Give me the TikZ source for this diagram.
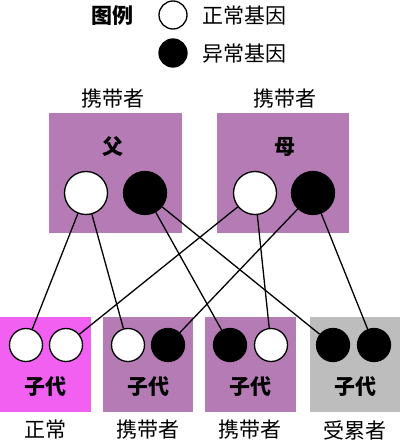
\documentclass[tikz,border=0pt]{standalone}
\usepackage{fontspec}
\setmainfont{Noto Sans CJK SC}
\usepackage{tikz}

\definecolor{parentbg}{RGB}{181,123,181}
\definecolor{normalbg}{RGB}{242,96,242}
\definecolor{sickbg}{RGB}{189,189,189}

\tikzset{
  gene/.style={circle, draw=black, line width=1.3pt, inner sep=0pt},
  big/.style={gene, minimum size=43pt},
  small/.style={gene, minimum size=33pt},
  legend/.style={gene, minimum size=28pt},
  label/.style={font=\fontsize{21}{24}\selectfont, inner sep=0pt},
  title/.style={font=\fontsize{21}{24}\selectfont\bfseries, inner sep=0pt},
  link/.style={line width=1.3pt}
}

\begin{document}
\begin{tikzpicture}[x=1pt,y=-1pt]
			\useasboundingbox (0,0) rectangle (400,441);

			% legend
			\node[title] (legendtitle) at (112,16) {图例};
			\node[legend, fill=white] (legendnormal) at (173,15) {};
			\node[legend, fill=black] (legendabnormal) at (173,53) {};
			\node[label] (normaltext) at (244,16) {正常基因};
			\node[label] (abnormaltext) at (244,54) {异常基因};

			% parents
			\fill[parentbg] (49,113) rectangle (182,233);
			\fill[parentbg] (217,113) rectangle (349,233);
			\node[label] (fathertag) at (113,99) {携带者};
			\node[label] (mothertag) at (285,99) {携带者};
			\node[title] (father) at (113,147) {父};
			\node[title] (mother) at (285,147) {母};
			\node[big, fill=white] (fw) at (86,193) {};
			\node[big, fill=black] (fb) at (145,193) {};
			\node[big, fill=white] (mw) at (255,193) {};
			\node[big, fill=black] (mb) at (313,193) {};

			% children
			\fill[normalbg] (0,317) rectangle (91,412);
			\fill[parentbg] (103,317) rectangle (193,412);
			\fill[parentbg] (205,317) rectangle (296,412);
			\fill[sickbg] (310,317) rectangle (400,412);
			\node[small, fill=white] (c1a) at (26,345) {};
			\node[small, fill=white] (c1b) at (66,345) {};
			\node[small, fill=white] (c2a) at (128,345) {};
			\node[small, fill=black] (c2b) at (168,345) {};
			\node[small, fill=black] (c3a) at (230,345) {};
			\node[small, fill=white] (c3b) at (271,345) {};
			\node[small, fill=black] (c4a) at (333,345) {};
			\node[small, fill=black] (c4b) at (374,345) {};
			\node[title] (child1) at (45,387) {子代};
			\node[title] (child2) at (148,387) {子代};
			\node[title] (child3) at (250,387) {子代};
			\node[title] (child4) at (355,387) {子代};
			\node[label] (result1) at (45,430) {正常};
			\node[label] (result2) at (148,430) {携带者};
			\node[label] (result3) at (250,430) {携带者};
			\node[label] (result4) at (355,430) {受累者};

			% inheritance
			\draw[link] (fw) -- (c1a);
			\draw[link] (fw) -- (c2a);
			\draw[link] (fb) -- (c3a);
			\draw[link] (fb) -- (c4a);
			\draw[link] (mw) -- (c1b);
			\draw[link] (mw) -- (c3b);
			\draw[link] (mb) -- (c2b);
			\draw[link] (mb) -- (c4b);
		\end{tikzpicture}
\end{document}
